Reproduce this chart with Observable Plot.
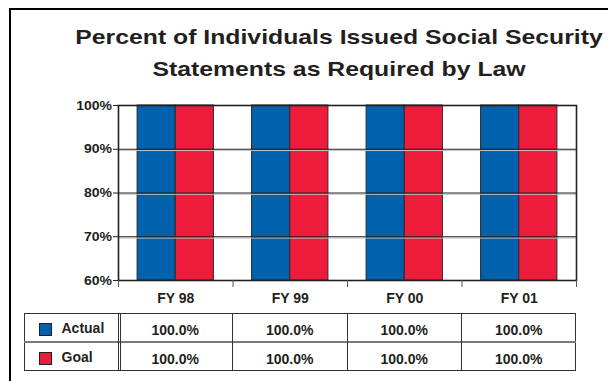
<!DOCTYPE html>
<html>
<head>
<meta charset="utf-8">
<script src="https://cdn.jsdelivr.net/npm/d3@7"></script>
<script src="https://cdn.jsdelivr.net/npm/@observablehq/plot@0.6"></script>
<style>
  html, body { margin: 0; padding: 0; background: #fff; }
  body { width: 608px; height: 381px; overflow: hidden; position: relative;
         font-family: "Liberation Sans", Arial, sans-serif; color: #231f20; }
  #border { position: absolute; left: 9px; top: 8px; width: 800px; height: 600px;
            border-left: 2px solid #000; border-top: 2px solid #000; }
  #title { position: absolute; left: 0; top: 21.3px; width: 678px; text-align: center;
           font-size: 21px; font-weight: bold; line-height: 31.4px;
           transform: scaleX(1.18); transform-origin: 339px 0; white-space: nowrap; }
  #chart { position: absolute; left: 0; top: 0; }
  .abs { position: absolute; }
  .cell { position: absolute; font-size: 14px; font-weight: bold; line-height: 14px; white-space: nowrap; }
</style>
</head>
<body>
<div id="border"></div>
<div id="title">Percent of Individuals Issued Social Security<br>Statements as Required by Law</div>
<div id="chart"></div>
<div id="table"></div>
<script>
// ---- data ----
const categories = ["FY 98", "FY 99", "FY 00", "FY 01"];
const series = ["Actual", "Goal"];
const actual = [100.0, 100.0, 100.0, 100.0];
const goal = [100.0, 100.0, 100.0, 100.0];
const seriesColors = ["#0062ad", "#ed1c3a"];
const yTicks = [60, 70, 80, 90, 100];
const gridTicks = [70, 80, 90];

const seriesValues = [actual, goal];
const rows = categories.flatMap((c, i) =>
  series.map((s, k) => ({category: c, i, series: s, k, value: seriesValues[k][i]})));

const groupPad = 1 / 6;                       // outer gap inside each category
const barW = (1 - 2 * groupPad) / series.length;
const yMin = yTicks[0];

const ink = "#231f20";

const plot = Plot.plot({
  width: 608,
  height: 310,
  marginLeft: 118,
  marginRight: 32,
  marginTop: 105,
  marginBottom: 30,
  style: {background: "transparent", fontFamily: "'Liberation Sans', Arial, sans-serif",
          fontSize: "14px", fontWeight: "bold", color: ink, overflow: "visible"},
  x: {domain: [0, categories.length], axis: null, label: null},
  y: {domain: [yTicks[0], yTicks[yTicks.length - 1]], axis: null, label: null},
  color: {domain: series, range: seriesColors},
  marks: [
    Plot.rect(rows, {
      x1: d => d.i + groupPad + d.k * barW,
      x2: d => d.i + groupPad + (d.k + 1) * barW,
      y1: yMin, y2: "value",
      fill: "series", stroke: "#2b2b2b", strokeWidth: 1
    }),
    Plot.ruleY(gridTicks, {stroke: "#c4c4c4", strokeWidth: 1, dy: 1.3}),
    Plot.ruleY(gridTicks, {stroke: ink, strokeWidth: 1.2}),
    Plot.frame({stroke: ink, strokeWidth: 1.6}),
    Plot.axisY({ticks: yTicks, tickFormat: d => d + "%", tickSize: 5, tickPadding: 1.5,
                fontSize: 12.5, stroke: ink, label: null}),
    Plot.axisX({ticks: d3.range(categories.length + 1), tickSize: 7,
                tickFormat: () => "", stroke: "#555", label: null}),
    Plot.axisX({ticks: categories.map((c, i) => i + 0.5),
                tickFormat: d => categories[Math.floor(d)], tickSize: 0, tickPadding: 12.4, label: null})
  ]
});
document.getElementById("chart").append(plot);

// widen the y tick labels like the original's wide face
plot.querySelectorAll('g[aria-label="y-axis tick label"] text').forEach(t => {
  const w = t.getComputedTextLength();
  t.setAttribute("textLength", w * 1.12);
  t.setAttribute("lengthAdjust", "spacingAndGlyphs");
});

// ---- data table under the chart ----
const xs = plot.scale("x");
const tbl = d3.select("#table");
const tTop = 313, rowH = 29, tLeft = 24;
const tRight = xs.apply(categories.length);
const colX = d3.range(categories.length + 1).map(v => xs.apply(v));

tbl.append("div").attr("class", "abs")
  .style("left", tLeft + "px").style("top", tTop + "px")
  .style("width", (tRight - tLeft) + "px").style("height", (rowH * 2) + "px")
  .style("box-sizing", "border-box").style("border", "1.3px solid #333");
// row divider
tbl.append("div").attr("class", "abs")
  .style("left", tLeft + "px").style("top", (tTop + rowH - 1) + "px")
  .style("width", (tRight - tLeft) + "px").style("height", "1.6px").style("background", "#7a7a7a");
// column dividers
colX.slice(1, -1).forEach(x => {
  tbl.append("div").attr("class", "abs")
    .style("left", (x - 0.5) + "px").style("top", tTop + "px")
    .style("width", "1.2px").style("height", (rowH * 2) + "px").style("background", "#333");
});
// double line after the legend column
[colX[0] - 0.5, colX[0] + 1.8].forEach(x => {
  tbl.append("div").attr("class", "abs")
    .style("left", x + "px").style("top", tTop + "px")
    .style("width", "1.1px").style("height", (rowH * 2) + "px").style("background", "#333");
});

series.forEach((s, k) => {
  const rTop = tTop + k * rowH;
  // swatch
  tbl.append("div").attr("class", "abs")
    .style("left", "39px").style("top", (rTop + 9.5) + "px")
    .style("width", "11px").style("height", "11px")
    .style("background", seriesColors[k]).style("border", "1px solid #231f20");
  // label
  tbl.append("div").attr("class", "cell")
    .style("left", "61.5px").style("top", (rTop + 7.6) + "px").text(s);
  // values
  categories.forEach((c, i) => {
    tbl.append("div").attr("class", "cell")
      .style("left", colX[i] + "px").style("width", (colX[i + 1] - colX[i]) + "px")
      .style("text-align", "center")
      .style("top", (rTop + 9.5) + "px")
      .text(seriesValues[k][i].toFixed(1) + "%");
  });
});
</script>
</body>
</html>
